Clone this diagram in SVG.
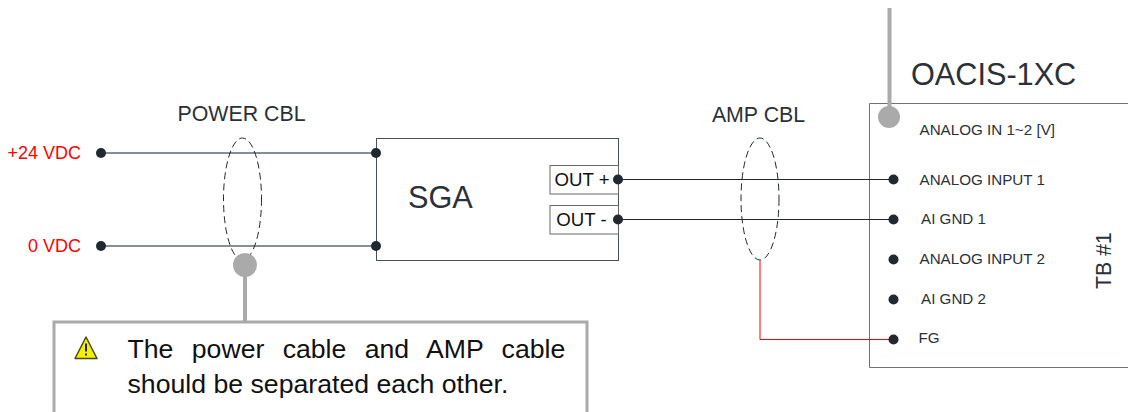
<svg xmlns="http://www.w3.org/2000/svg" width="1128" height="412" viewBox="0 0 1128 412">
<style>
text{font-family:"Liberation Sans",Arial,sans-serif}
.lb{fill:#2b3138}
.red{fill:#ff0000;font-size:18px}
.pin{fill:#2b3138;font-size:15.200px}
.dot{fill:#212830}
.box{fill:#fff;stroke:#4a5058;stroke-width:1}
.oc{fill:none;stroke:#212830;stroke-width:1;stroke-dasharray:7 4}
.grey{stroke:#868e96;stroke-width:2;fill:none}
.wire{stroke:#212830;stroke-width:1;fill:none}
.call{stroke:#aaaaaa;stroke-width:4;fill:none}
.knob{fill:#aaaaaa}
</style>
<rect width="1128" height="412" fill="#fff"/>
<g id="sga">
<rect class="box" x="376.500" y="138.500" width="242" height="122"/>
<text x="408" y="208" font-size="30.670" class="lb">SGA</text>
<rect x="550" y="165.500" width="68.500" height="28.500" fill="#fff" stroke="#666" stroke-width="1"/>
<text x="582" y="186" font-size="18.670" fill="#111" text-anchor="middle">OUT +</text>
<rect x="550" y="205.500" width="68.500" height="28.500" fill="#fff" stroke="#666" stroke-width="1"/>
<text x="581.500" y="226" font-size="18.670" fill="#111" text-anchor="middle">OUT -</text>
</g>
<g id="oacis">
<path d="M1128 103.500H869.500V367.500H1128" fill="#fff" stroke="#6c7278" stroke-width="1"/>
<text x="911" y="85" font-size="30.670" class="lb">OACIS-1XC</text>
<text x="919.500" y="135" class="pin">ANALOG IN 1~2 [V]</text>
<text x="919.500" y="184.500" class="pin">ANALOG INPUT 1</text>
<text x="921" y="224" class="pin">AI GND 1</text>
<text x="919.500" y="264" class="pin">ANALOG INPUT 2</text>
<text x="921" y="304" class="pin">AI GND 2</text>
<text x="918.500" y="343" class="pin">FG</text>
<text transform="translate(1111,289) rotate(-90)" font-size="21.330" class="lb">TB #1</text>
</g>
<g id="connectors">
<path class="grey" d="M101 153H376M101 246H376"/>
<path class="wire" d="M618 179.500H893M618 219.500H893"/>
<path d="M760 260.500V339.500H893" fill="none" stroke="#ff0000" stroke-width="1"/>
<ellipse class="oc" cx="242.500" cy="199" rx="19" ry="61"/>
<ellipse class="oc" cx="760" cy="199" rx="19" ry="61"/>
<path class="call" d="M245 270V322M889.500 8V112"/>
</g>
<g id="terminals">
<circle class="dot" cx="101" cy="153" r="5"/>
<circle class="dot" cx="376" cy="153" r="5"/>
<circle class="dot" cx="101" cy="246" r="5"/>
<circle class="dot" cx="376" cy="246" r="5"/>
<circle class="dot" cx="618" cy="179.500" r="5"/>
<circle class="dot" cx="618" cy="219.500" r="5"/>
<circle class="dot" cx="893.500" cy="179.500" r="5"/>
<circle class="dot" cx="893.500" cy="219.500" r="5"/>
<circle class="dot" cx="893.500" cy="259.500" r="5"/>
<circle class="dot" cx="893.500" cy="299.500" r="5"/>
<circle class="dot" cx="893.500" cy="339.500" r="5"/>
<circle class="knob" cx="245" cy="265" r="12"/>
<circle class="knob" cx="889" cy="117" r="11"/>
</g>
<g id="supply-labels">
<text x="81" y="159" class="red" text-anchor="end">+24 VDC</text>
<text x="81" y="252" class="red" text-anchor="end">0 VDC</text>
<text x="241.500" y="121" font-size="21.330" class="lb" text-anchor="middle">POWER CBL</text>
<text x="758.500" y="122" font-size="21.330" class="lb" text-anchor="middle">AMP CBL</text>
</g>
<g id="note">
<rect x="54" y="322" width="533" height="95" fill="#fff" stroke="#aaaaaa" stroke-width="3"/>
<path d="M86 337L97 358.500H75Z" fill="#f5f000" stroke="#4a4a10" stroke-width="1.500" stroke-linejoin="round"/>
<path d="M86 343.500V351.500M86 353.500V355.500" stroke="#222" stroke-width="2" fill="none"/>
<text x="127.500" y="358" font-size="26.670" fill="#111" word-spacing="10.900">The power cable and AMP cable</text>
<text x="127.500" y="393" font-size="26.670" fill="#111">should be separated each other.</text>
</g>
</svg>
